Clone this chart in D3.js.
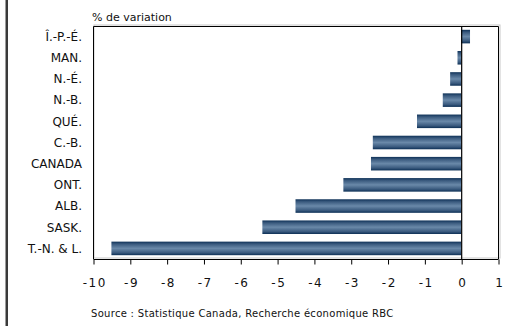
<!DOCTYPE html>
<html>
<head>
<meta charset="utf-8">
<script src="https://cdn.jsdelivr.net/npm/d3@7"></script>
<style>
  html, body { margin: 0; padding: 0; background: #fff; }
  svg { display: block; }
  text { font-family: "DejaVu Sans", Verdana, sans-serif; fill: #111; }
</style>
</head>
<body>
<svg id="chart" width="530" height="326"></svg>
<script>
// Provinces, top to bottom
const categories = ["Î.-P.-É.", "MAN.", "N.-É.", "N.-B.", "QUÉ.", "C.-B.", "CANADA", "ONT.", "ALB.", "SASK.", "T.-N. & L."];
// Percentage change
const values = [0.24, -0.1, -0.3, -0.5, -1.2, -2.4, -2.45, -3.2, -4.5, -5.4, -9.5];
const xTicks = [-10, -9, -8, -7, -6, -5, -4, -3, -2, -1, 0, 1];
const unitLabel = "% de variation";
const sourceText = "Source : Statistique Canada, Recherche économique RBC";

const svg = d3.select("#chart");
const plot = { left: 93, right: 498, top: 26, bottom: 259 };

const x = d3.scaleLinear().domain([-10, 1]).range([plot.left, plot.right]);
const y = d3.scaleBand().domain(categories).range([plot.top, plot.bottom]).paddingInner(0.36).paddingOuter(0.18);

// Cylinder-style shading for the bars
const defs = svg.append("defs");
const grad = defs.append("linearGradient").attr("id", "barShade")
  .attr("x1", 0).attr("y1", 0).attr("x2", 0).attr("y2", 1);
[[0, "#0e3157"], [0.18, "#3a5a7e"], [0.5, "#6a89a9"], [0.82, "#3a5a7e"], [1, "#0c2f55"]]
  .forEach(([o, c]) => grad.append("stop").attr("offset", o).attr("stop-color", c));

// Outer left rule
svg.append("rect").attr("x", 5.5).attr("y", 0).attr("width", 2.5).attr("height", 326).attr("fill", "#3a3a3a");

// Frame shadow and border
svg.append("rect").attr("x", plot.left + 1).attr("y", plot.top - 1)
  .attr("width", plot.right - plot.left + 1).attr("height", plot.bottom - plot.top)
  .attr("fill", "none").attr("stroke", "#c8c8c8").attr("stroke-width", 1);
svg.append("path")
  .attr("d", `M${plot.left + 0.5},${plot.bottom} V${plot.top + 0.5} H${plot.right + 0.5} V${plot.bottom}`)
  .attr("fill", "none").attr("stroke", "#000").attr("stroke-width", 1);

// Bars
svg.append("g").selectAll("rect").data(values).join("rect")
  .attr("x", d => x(Math.min(0, d)))
  .attr("y", (d, i) => y(categories[i]))
  .attr("width", d => Math.abs(x(d) - x(0)))
  .attr("height", y.bandwidth())
  .attr("fill", "url(#barShade)");

// Zero line
svg.append("line").attr("x1", x(0) + 0.5).attr("x2", x(0) + 0.5)
  .attr("y1", plot.top).attr("y2", plot.bottom)
  .attr("stroke", "#000").attr("stroke-width", 1.2);

// Bottom axis, labels with a plain hyphen
const xAxis = d3.axisBottom(x).tickValues(xTicks).tickSize(5).tickPadding(14).tickFormat(d => String(d));
const gx = svg.append("g").attr("transform", `translate(0.5,${plot.bottom + 0.5})`).call(xAxis);
gx.select(".domain").attr("stroke", "#000").attr("d", `M${plot.left},0H${plot.right}`);
gx.selectAll(".tick line").attr("stroke", "#000");
gx.selectAll(".tick text").attr("font-size", 12).attr("font-family", "DejaVu Sans, sans-serif")
  .attr("letter-spacing", "1.5px").attr("dx", "0.75px").attr("fill", "#111");

// Category labels
svg.append("g").selectAll("text").data(categories).join("text")
  .attr("x", 82)
  .attr("y", d => y(d) + y.bandwidth() / 2)
  .attr("dy", "0.36em")
  .attr("text-anchor", "end")
  .attr("font-size", 12)
  .text(d => d);

svg.append("text").attr("x", 92).attr("y", 21).attr("font-size", 11).text(unitLabel);

svg.append("text").attr("x", 91).attr("y", 317).attr("font-size", 10)
  .attr("letter-spacing", "0.3px").text(sourceText);
</script>
</body>
</html>
